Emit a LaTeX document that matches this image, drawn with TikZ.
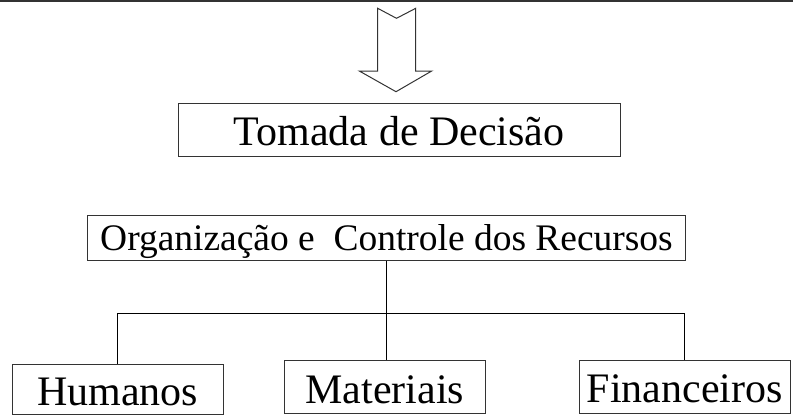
\documentclass[tikz,border=0pt]{standalone}
\usepackage{fontspec}
\setmainfont{Liberation Serif}

\begin{document}
\begin{tikzpicture}[x=0.75pt,y=-0.75pt,
    box/.style={draw=black!80,line width=0.75pt,inner sep=0pt,text height=24.3pt,text depth=0pt,
        font=\fontsize{31.5}{34}\selectfont},
    link/.style={draw=black,line width=0.75pt}]
    \useasboundingbox (0,0) rectangle (793,415);
    \clip (0,0) rectangle (793,415);
    \draw[line width=1.5pt,black!80] (0,1) -- (793,1); % rule at the top
    % hollow arrow, edit here for its points
    \draw[line width=0.75pt,black!80] (377.7,8.3) -- (396.5,18.3) -- (415.7,8.3) -- (415.7,71)
        -- (431.7,71) -- (396,91.7) -- (359.3,71) -- (377.7,71) -- cycle;
    \node[box,minimum width=331.3pt,minimum height=39.5pt] (tomada) at (399.2,129.7) {Tomada de Decisão};
    \node[box,minimum width=448.2pt,minimum height=33.75pt,text height=19.8pt,
        font=\fontsize{28.1}{30}\selectfont] (org) at (386.5,237.5) {Organização e~ Controle dos Recursos};
    % the three boxes at the bottom
    \node[box,minimum width=158pt,minimum height=37.4pt] (humanos) at (117.7,389.2) {Humanos};
    \node[box,minimum width=151pt,minimum height=39.5pt] (materiais) at (384.7,387) {Materiais};
    \node[box,minimum width=158.8pt,minimum height=39.75pt] (financeiros) at (684.9,386.5) {Financeiros};
    \coordinate (bus) at (org.south |- 0,313);
    \draw[link] (org.south) -- (bus);
    \draw[link] (bus) -| (humanos.north);
    \draw[link] (bus) -| (financeiros.north);
    \draw[link] (bus) -- (bus |- materiais.north);
\end{tikzpicture}
\end{document}
